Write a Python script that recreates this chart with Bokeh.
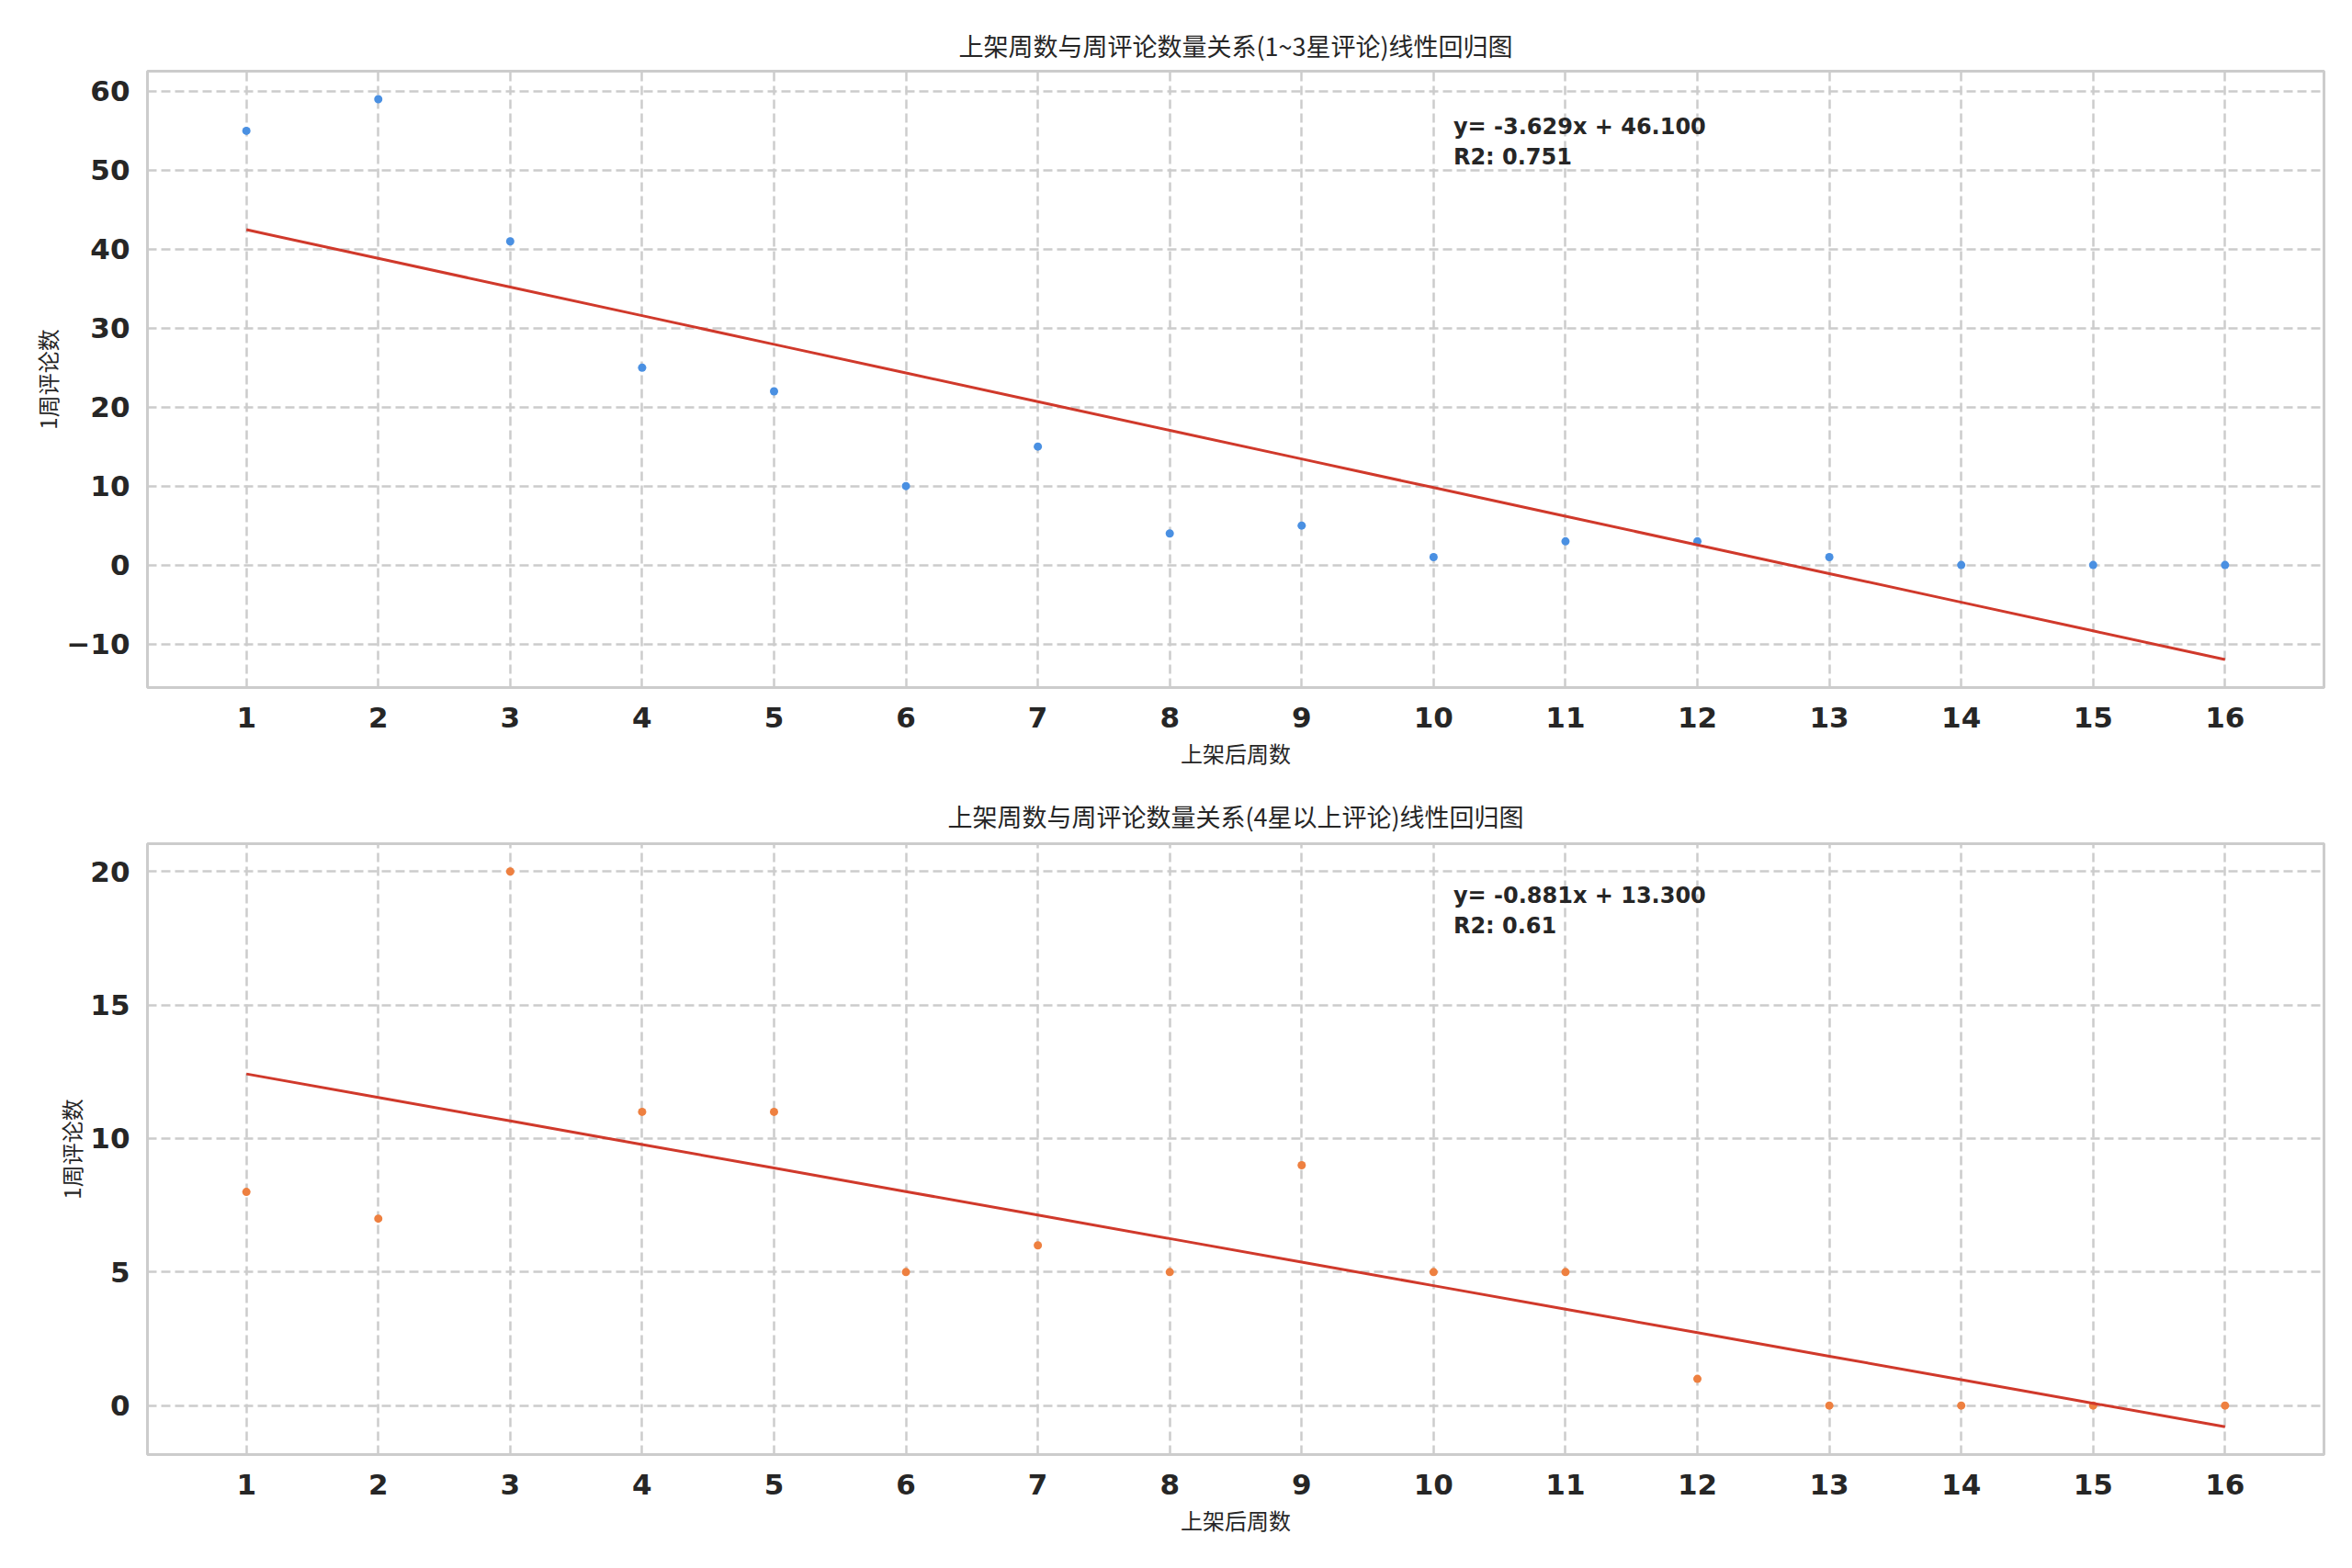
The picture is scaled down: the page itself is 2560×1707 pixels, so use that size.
import numpy as np
from bokeh.plotting import figure
from bokeh.models import Range1d, FixedTicker, Label
from bokeh.layouts import column
from bokeh.embed import file_html
from bokeh.resources import INLINE

# ---------------- data ----------------
weeks = list(range(1, 17))
low_counts = [55, 59, 41, 25, 22, 10, 15, 4, 5, 1, 3, 3, 1, 0, 0, 0]
high_counts = [8, 7, 20, 11, 11, 5, 6, 5, 9, 5, 5, 1, 0, 0, 0, 0]
x_ticks = list(range(1, 17))
top_y_ticks = [-10, 0, 10, 20, 30, 40, 50, 60]
bottom_y_ticks = [0, 5, 10, 15, 20]
top_title = "上架周数与周评论数量关系(1~3星评论)线性回归图"
bottom_title = "上架周数与周评论数量关系(4星以上评论)线性回归图"
x_label = "上架后周数"
y_label = "1周评论数"
top_eq = "y= -3.629x + 46.100"
top_r2 = "R2: 0.751"
bottom_eq = "y= -0.881x + 13.300"
bottom_r2 = "R2: 0.61"

TXT = "#262626"
GRID = "#cccccc"
CJK = "Noto Sans CJK SC"
LAT = "DejaVu Sans"


def make_plot(x, y, color, title, yticks, eq, r2, top_border, frame_h, total_h,
              fracs, title_standoff):
    x = np.array(x, dtype=float)
    y = np.array(y, dtype=float)
    slope, intercept = np.polyfit(x, y, 1)
    fit = slope * x + intercept

    xmin, xmax = x.min(), x.max()
    xm = 0.05 * (xmax - xmin)
    ymin = min(y.min(), fit.min())
    ymax = max(y.max(), fit.max())
    ymg = 0.05 * (ymax - ymin)
    xr = Range1d(xmin - xm, xmax + xm)
    yr = Range1d(ymin - ymg, ymax + ymg)

    p = figure(
        frame_width=2369, frame_height=frame_h,
        x_range=xr, y_range=yr,
        output_backend="svg", toolbar_location=None,
        min_border_left=160, min_border_right=15,
        min_border_top=top_border, min_border_bottom=total_h - top_border - frame_h,
        background_fill_color="white", border_fill_color="white",
    )
    p.title.text = title
    p.title.align = "center"
    p.title.text_font = CJK
    p.title.text_font_size = "27px"
    p.title.text_font_style = "normal"
    p.title.text_color = TXT
    p.title.standoff = title_standoff

    p.outline_line_color = GRID
    p.outline_line_width = 3

    for ax in (p.xaxis[0], p.yaxis[0]):
        ax.axis_line_color = None
        ax.major_tick_line_color = None
        ax.minor_tick_line_color = None
        ax.major_tick_out = 0
        ax.major_tick_in = 0
        ax.major_label_text_font = LAT
        ax.major_label_text_font_style = "bold"
        ax.major_label_text_font_size = "31px"
        ax.major_label_text_color = TXT
        ax.axis_label_text_font = CJK
        ax.axis_label_text_font_size = "24px"
        ax.axis_label_text_font_style = "normal"
        ax.axis_label_text_color = TXT

    p.xaxis[0].major_label_standoff = 21
    p.yaxis[0].major_label_standoff = 19
    p.xaxis[0].ticker = FixedTicker(ticks=x_ticks)
    p.yaxis[0].ticker = FixedTicker(ticks=yticks)
    p.yaxis[0].major_label_overrides = {t: ("\u2212" + str(-t)) for t in yticks if t < 0}
    p.xaxis[0].axis_label = x_label
    p.yaxis[0].axis_label = y_label
    p.xaxis[0].axis_label_standoff = 7
    p.yaxis[0].axis_label_standoff = 0

    for g in (p.xgrid[0], p.ygrid[0]):
        g.grid_line_color = GRID
        g.grid_line_width = 2.5
        g.grid_line_dash = "10 5"

    p.scatter(x, y, size=9, fill_color=color, line_color=None)
    p.line(x, fit, line_color="#d0392b", line_width=3)

    lx = xr.start + 0.6 * (xr.end - xr.start)
    for frac, txt in zip(fracs, (eq, r2)):
        p.add_layout(Label(
            x=lx, y=yr.start + frac * (yr.end - yr.start), text=txt,
            text_font=LAT, text_font_style="bold", text_font_size="24px",
            text_color=TXT, text_baseline="alphabetic", text_align="left",
        ))
    return p


p1 = make_plot(weeks, low_counts, "#4a90e2", top_title, top_y_ticks,
               top_eq, top_r2, 77, 671, 848, (0.910, 0.861), 18)
p2 = make_plot(weeks, high_counts, "#ee8040", bottom_title, bottom_y_ticks,
               bottom_eq, bottom_r2, 70, 665, 851, (0.915, 0.866), 22)

layout = column(p1, p2, spacing=0)
open("out.html", "w").write(file_html(layout, INLINE))
